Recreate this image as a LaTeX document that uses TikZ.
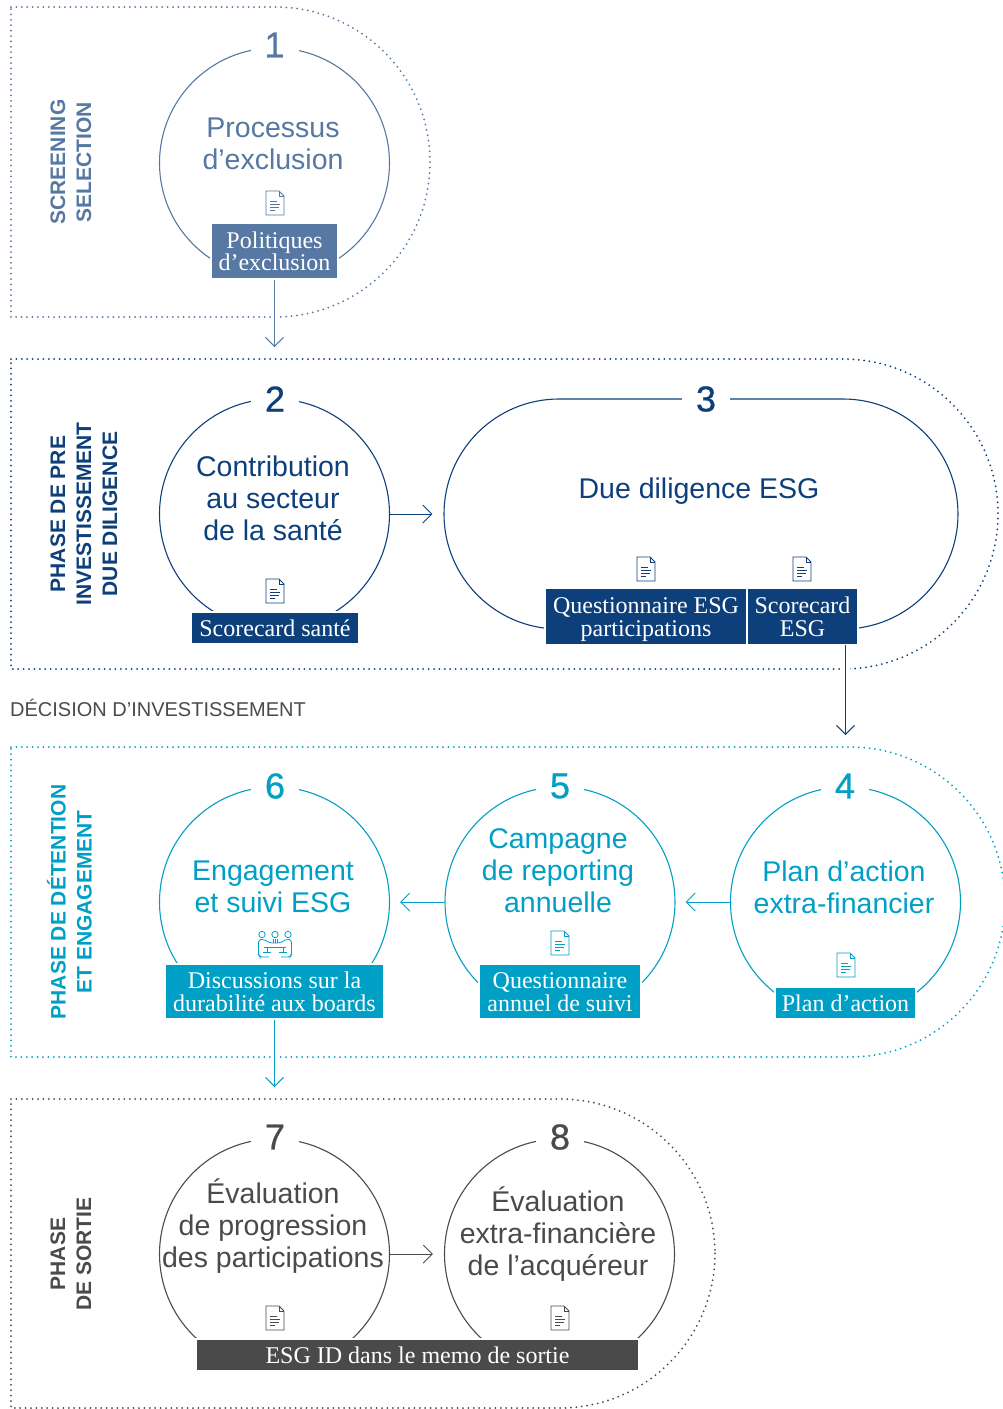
\documentclass[tikz,border=0pt]{standalone}
\usepackage{fontspec}
\setmainfont{Liberation Sans}
\newfontfamily\boxfont{Liberation Serif}
\newfontfamily\numfont[FakeBold=0.7]{Liberation Sans}
\usetikzlibrary{arrows.meta}
\definecolor{steel}{HTML}{5678A2}
\definecolor{navy}{HTML}{0D3F7B}
\definecolor{teal}{HTML}{00A0C6}
\definecolor{slate}{HTML}{4A4A4A}
\newcommand{\tagtop}{\rule{0pt}{22pt}}
\newcommand{\tagbot}{\rule[-5.5pt]{0pt}{1pt}}
\tikzset{
    zone/.style={line width=2pt,dash pattern=on 0pt off 5.4pt,line cap=round},
    ring/.style={draw,circle,minimum size=230pt,inner sep=0pt,line width=1.1pt},
    pill/.style={draw,rectangle,rounded corners=115pt,minimum width=514pt,minimum height=230pt,inner sep=0pt,line width=1.1pt},
    num/.style={fill=white,minimum width=48pt,minimum height=32pt,inner sep=0pt,font=\numfont\fontsize{36}{36}\selectfont},
    title/.style={align=center,inner sep=0pt,font=\fontsize{28.5}{32}\selectfont},
    side/.style={align=center,inner sep=0pt,rotate=90,font=\fontsize{21}{26}\selectfont\bfseries},
    tag/.style={draw=white,line width=1.2pt,inner sep=0pt,align=center,text=white,font=\boxfont\fontsize{24}{22.5}\selectfont},
    flow/.style={line width=1pt,-{Straight Barb[length=9pt,width=18pt,line width=1pt]}},
    cutflow/.style={flow,preaction={draw=white,line width=8pt,-}},
    docicon/.pic={
        \draw[line width=0.8pt,pic actions] (-9,-12) -- (4,-12) -- (9,-7) -- (9,12) -- (-9,12) -- cycle;
        \draw[line width=0.6pt,pic actions] (4,-12) -- (4,-7) -- (9,-7);
        \draw[line width=0.8pt,pic actions] (-5,-2) -- (2,-2) (-5,1) -- (5,1) (-5,4) -- (4,4) (-5,7) -- (0,7);
    },
    meeticon/.pic={
        \draw[line width=0.8pt,pic actions] (-13,-9.5) circle (3.2) (0,-9.5) circle (3.2) (13,-9.5) circle (3.2);
        \draw[line width=0.8pt,pic actions,rounded corners=2pt] (-6,13) -- (-15,13) -- (-16.5,11) -- (-16.5,-4) -- (-12,-5) -- (-5,-1) -- (5,-1) -- (12,-5) -- (16.5,-4) -- (16.5,11) -- (15,13) -- (6,13);
        \draw[line width=0.8pt,pic actions] (-11,3) -- (11,3) (-8,3) -- (-8,9) (8,3) -- (8,9) (-12,8) -- (-4,8) (12,8) -- (4,8) (-2,-5) -- (-2,-1) (2,-5) -- (2,-1) (0,-5) -- (0,-1);
    },
}
\begin{document}
\begin{tikzpicture}[x=1pt,y=-1pt]
    \useasboundingbox (0,0) rectangle (1002,1409);
    % dotted zones
    \draw[zone,steel] (11,7) [rounded corners=155pt] -- (430,7) -- (430,317) [sharp corners] -- (11,317) -- cycle;
    \draw[zone,navy] (11,359) [rounded corners=155pt] -- (998,359) -- (998,669) [sharp corners] -- (11,669) -- cycle;
    \draw[zone,teal] (11,747) [rounded corners=155pt] -- (1005,747) -- (1005,1057) [sharp corners] -- (11,1057) -- cycle;
    \draw[zone,slate] (11,1099) [rounded corners=155pt] -- (715,1099) -- (715,1408) [sharp corners] -- (11,1408) -- cycle;
    % side labels
    \node[side,steel] (lab1) at (71,162) {SCREENING\\SELECTION};
    \node[side,navy] (lab2) at (84,514) {PHASE DE PRE\\INVESTISSEMENT\\DUE DILIGENCE};
    \node[side,teal] (lab3) at (69.5,902) {PHASE DE DÉTENTION\\ET ENGAGEMENT};
    \node[side,slate] (lab4) at (71,1254) {PHASE\\DE SORTIE};
    \node[anchor=west,inner sep=0pt,slate,font=\fontsize{20}{20}\selectfont] (decision) at (10,708) {DÉCISION D’INVESTISSEMENT};
    % rings
    \node[ring,steel] (ring1) at (274.5,163) {};
    \node[ring,navy] (ring2) at (274.5,514) {};
    \node[pill,navy] (ring3) at (701,514) {};
    \node[ring,teal] (ring4) at (845.5,902) {};
    \node[ring,teal] (ring5) at (560,902) {};
    \node[ring,teal] (ring6) at (274.5,902) {};
    \node[ring,slate] (ring7) at (274.5,1254) {};
    \node[ring,slate] (ring8) at (559.5,1254) {};
    % numbers
    \node[num,text=steel] (num1) at (274.5,45) {1};
    \node[num,text=navy] (num2) at (275,399) {2};
    \node[num,text=navy] (num3) at (706,399) {3};
    \node[num,text=teal] (num4) at (845,786) {4};
    \node[num,text=teal] (num5) at (560,786) {5};
    \node[num,text=teal] (num6) at (275,786) {6};
    \node[num,text=slate] (num7) at (275,1137) {7};
    \node[num,text=slate] (num8) at (560,1137) {8};
    % titles
    \node[title,steel] (txt1) at (273,144) {Processus\\d’exclusion};
    \node[title,navy] (txt2) at (273,498) {Contribution\\au secteur\\de la santé};
    \node[title,navy] (txt3) at (699,491) {Due diligence ESG};
    \node[title,teal] (txt4) at (844,887) {Plan d’action\\extra-financier};
    \node[title,teal] (txt5) at (558,871) {Campagne\\de reporting\\annuelle};
    \node[title,teal] (txt6) at (273,887) {Engagement\\et suivi ESG};
    \node[title,slate] (txt7) at (273,1226) {Évaluation\\de progression\\des participations};
    \node[title,slate] (txt8) at (558,1234) {Évaluation\\extra-financière\\de l’acquéreur};
    % tags
    \node[tag,fill=steel,minimum width=127pt,minimum height=56pt] (tag1) at (274.5,251) {\tagtop Politiques\\d’exclusion\tagbot};
    \node[tag,fill=navy,minimum width=168pt,minimum height=32pt] (tag2) at (275,628) {\tagtop Scorecard santé\tagbot};
    \node[tag,fill=navy,minimum width=202pt,minimum height=56pt] (tag3a) at (646,616.5) {\tagtop Questionnaire ESG\\participations\tagbot};
    \node[tag,fill=navy,minimum width=111pt,minimum height=56pt] (tag3b) at (802.5,616.5) {\tagtop Scorecard\\ESG\tagbot};
    \node[tag,fill=teal,minimum width=141pt,minimum height=32pt] (tag4) at (845.5,1003) {\tagtop Plan d’action\tagbot};
    \node[tag,fill=teal,minimum width=162pt,minimum height=55pt] (tag5) at (560,991.5) {\tagtop Questionnaire\\annuel de suivi\tagbot};
    \node[tag,fill=teal,minimum width=219pt,minimum height=55pt] (tag6) at (274.5,991.5) {\tagtop Discussions sur la\\durabilité aux boards\tagbot};
    \node[tag,fill=slate,minimum width=443pt,minimum height=32pt] (tag7) at (417.5,1355) {\tagtop ESG ID dans le memo de sortie\tagbot};
    % icons
    \pic[color=steel] at (275,203) {docicon};
    \pic[color=navy] at (275,591) {docicon};
    \pic[color=navy] at (646,569) {docicon};
    \pic[color=navy] at (802,569) {docicon};
    \pic[color=teal] at (846,965) {docicon};
    \pic[color=teal] at (560,943) {docicon};
    \pic[color=teal] at (275,944) {meeticon};
    \pic[color=slate] at (275,1318) {docicon};
    \pic[color=slate] at (560,1318) {docicon};
    % arrows
    \coordinate (end1) at (274.5,347);
    \coordinate (end3) at (845.5,735);
    \coordinate (end6) at (274.5,1087);
    \draw[cutflow,steel] (tag1.south) -- (end1);
    \draw[flow,navy,shorten >=11pt] (ring2.east) -- (ring3.west);
    \draw[cutflow,navy] (tag3b.south -| end3) -- (end3);
    \draw[flow,teal,shorten >=10pt] (ring4.west) -- (ring5.east);
    \draw[flow,teal,shorten >=10pt] (ring5.west) -- (ring6.east);
    \draw[cutflow,teal] (tag6.south) -- (end6);
    \draw[flow,slate,shorten >=11pt] (ring7.east) -- (ring8.west);
\end{tikzpicture}
\end{document}
